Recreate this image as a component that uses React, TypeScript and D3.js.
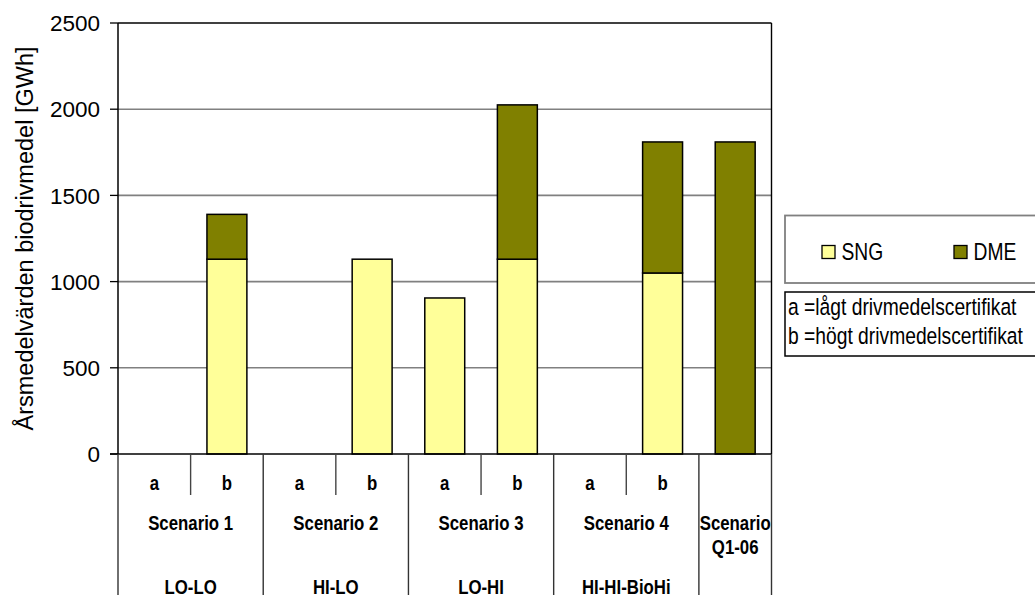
import React from "react";
import * as d3 from "d3";

// Slot labels along the category axis (a = low certificate, b = high certificate)
const slotLabels = ["a", "b", "a", "b", "a", "b", "a", "b", ""];
// Scenario groups: label lines, scenario code and number of slots covered
const scenarioLabels = [["Scenario 1"], ["Scenario 2"], ["Scenario 3"], ["Scenario 4"], ["Scenario", "Q1-06"]];
const scenarioCodes = ["LO-LO", "HI-LO", "LO-HI", "HI-HI-BioHi", ""];
const scenarioSpans = [2, 2, 2, 2, 1];

// Annual mean biofuel production per slot [GWh]
const sngValues = [0, 1130, 0, 1130, 905, 1130, 0, 1050, 0];
const dmeValues = [0, 260, 0, 0, 0, 895, 0, 760, 1810];

const seriesNames = ["SNG", "DME"];
const seriesColors = ["#FFFF99", "#808000"];
const yTicks = [0, 500, 1000, 1500, 2000, 2500];

const legendNotes = ["a =lågt drivmedelscertifikat", "b =högt drivmedelscertifikat"];
const yTitle = "Årsmedelvärden biodrivmedel [GWh]";

const W = 1035;
const H = 595;
const plot = { left: 118, right: 771.5, top: 23, bottom: 454 };

const SANS = "'Liberation Sans', Arial, sans-serif";
const NARROW_SCALE = 0.82;

// Condensed text: Liberation Sans squeezed horizontally
function Narrow(props: {
  x: number;
  y: number;
  size: number;
  anchor?: "start" | "middle" | "end";
  bold?: boolean;
  children: React.ReactNode;
}) {
  const { x, y, size, anchor = "start", bold = false, children } = props;
  return (
    <text
      transform={`translate(${x},${y}) scale(${NARROW_SCALE},1)`}
      textAnchor={anchor}
      fontFamily={SANS}
      fontWeight={bold ? "bold" : "normal"}
      fontSize={size}
      fill="#000"
    >
      {children}
    </text>
  );
}

export default function App() {
  const x = d3
    .scaleBand<number>()
    .domain(d3.range(slotLabels.length))
    .range([plot.left, plot.right])
    .padding(0);
  const y = d3.scaleLinear().domain([0, 2500]).range([plot.bottom, plot.top]);

  const rows = slotLabels.map((_, i) => ({ i, SNG: sngValues[i], DME: dmeValues[i] }));
  const stacked = d3.stack<any>().keys(seriesNames)(rows);
  const bw = x.bandwidth();
  const barW = bw * 0.55;

  // group boundaries in slot indices
  const groupStarts: number[] = [];
  let acc = 0;
  scenarioSpans.forEach((s) => {
    groupStarts.push(acc);
    acc += s;
  });
  const slotEdge = (i: number) => (i >= slotLabels.length ? plot.right : (x(i) as number));

  return (
    <svg width={W} height={H} style={{ position: "absolute", left: 0, top: 0, background: "#fff" }}>
      {/* gridlines */}
      {yTicks.slice(1, -1).map((t) => (
        <line key={"g" + t} x1={plot.left} x2={plot.right} y1={y(t)} y2={y(t)} stroke="#808080" strokeWidth={1.6} />
      ))}
      {/* plot frame top and right */}
      <line x1={plot.left} x2={plot.right} y1={plot.top} y2={plot.top} stroke="#000" strokeWidth={1.6} />
      <line x1={plot.right} x2={plot.right} y1={plot.top} y2={plot.bottom} stroke="#000" strokeWidth={1.4} />

      {/* stacked bars */}
      {stacked.map((layer, si) =>
        layer.map((d: any, i: number) => {
          if (d[1] - d[0] <= 0) return null;
          const cx = (x(i) as number) + bw / 2;
          return (
            <rect
              key={seriesNames[si] + i}
              x={cx - barW / 2}
              y={y(d[1])}
              width={barW}
              height={y(d[0]) - y(d[1])}
              fill={seriesColors[si]}
              stroke="#000"
              strokeWidth={1.5}
            />
          );
        })
      )}

      {/* y axis */}
      <line x1={plot.left} x2={plot.left} y1={plot.top} y2={plot.bottom} stroke="#000" strokeWidth={1.5} />
      {yTicks.map((t) => (
        <g key={"t" + t}>
          <line x1={plot.left - 8} x2={plot.left} y1={y(t)} y2={y(t)} stroke="#000" strokeWidth={1.3} />
          <text x={100} y={y(t)} dy="0.36em" textAnchor="end" fontFamily={SANS} fontSize={22.5} fill="#000">
            {t}
          </text>
        </g>
      ))}
      <text
        transform={`translate(33, ${(plot.top + plot.bottom) / 2}) rotate(-90)`}
        textAnchor="middle"
        fontFamily={SANS}
        fontSize={23.5}
        fill="#000"
      >
        {yTitle}
      </text>

      {/* category axis table */}
      <line x1={plot.left - 8} x2={plot.right} y1={plot.bottom} y2={plot.bottom} stroke="#000" strokeWidth={1.4} />
      {slotLabels.map((lab, i) => {
        const isGroupStart = groupStarts.includes(i);
        const xx = x(i) as number;
        return (
          <g key={"s" + i}>
            {!isGroupStart && <line x1={xx} x2={xx} y1={plot.bottom} y2={495} stroke="#444" strokeWidth={1.4} />}
            {lab && (
              <Narrow x={xx + bw / 2} y={490} size={20.5} anchor="middle" bold>
                {lab}
              </Narrow>
            )}
          </g>
        );
      })}
      {groupStarts.map((gs, gi) => {
        const x0 = slotEdge(gs);
        const x1 = slotEdge(gs + scenarioSpans[gi]);
        const cx = (x0 + x1) / 2;
        return (
          <g key={"grp" + gi}>
            <line x1={x0} x2={x0} y1={plot.bottom} y2={H} stroke="#333" strokeWidth={1.4} />
            {scenarioLabels[gi].map((ln, li) => (
              <Narrow key={li} x={cx} y={530 + li * 24} size={20.5} anchor="middle" bold>
                {ln}
              </Narrow>
            ))}
            {scenarioCodes[gi] && (
              <Narrow x={cx} y={594} size={20.5} anchor="middle" bold>
                {scenarioCodes[gi]}
              </Narrow>
            )}
          </g>
        );
      })}
      <line x1={plot.right} x2={plot.right} y1={plot.bottom} y2={H} stroke="#333" strokeWidth={1.4} />

      {/* series legend */}
      <rect x={785} y={215.5} width={270} height={67.5} fill="#fff" stroke="#808080" strokeWidth={1.8} />
      {seriesNames.map((name, i) => {
        const lx = i === 0 ? 822 : 954;
        return (
          <g key={"lg" + name}>
            <rect x={lx} y={245.5} width={13} height={13} fill={seriesColors[i]} stroke="#000" strokeWidth={1.3} />
            <Narrow x={lx + 19.5} y={259.5} size={23.5}>
              {name}
            </Narrow>
          </g>
        );
      })}

      {/* note box */}
      <rect x={785} y={292} width={270} height={64} fill="#fff" stroke="#000" strokeWidth={1.5} />
      {legendNotes.map((n, i) => (
        <Narrow key={"n" + i} x={788} y={315 + i * 29} size={23.5}>
          {n}
        </Narrow>
      ))}
    </svg>
  );
}
